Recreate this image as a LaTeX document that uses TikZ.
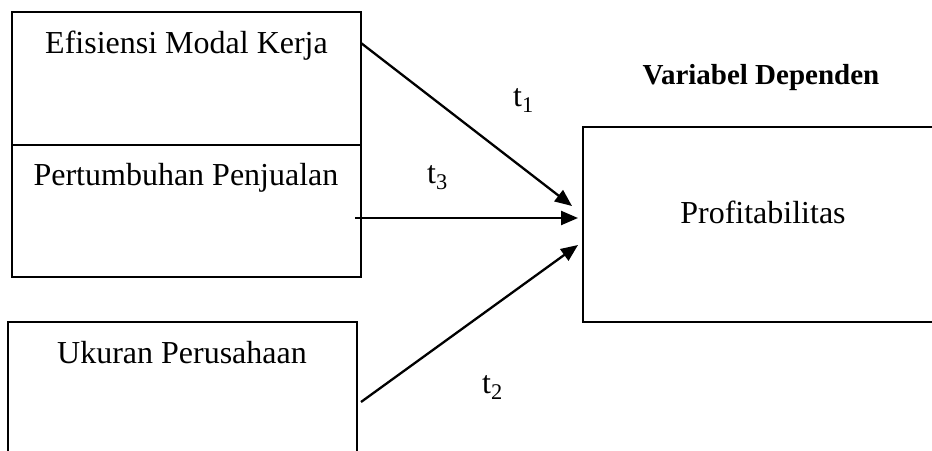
\documentclass[tikz,border=0pt]{standalone}
\usepackage{fontspec}
\setmainfont{Liberation Serif}
\usetikzlibrary{arrows.meta}
\begin{document}
\begin{tikzpicture}[x=1pt,y=-1pt,
  box/.style={draw,line width=2.3pt,inner sep=0pt},
  lbl/.style={font=\fontsize{32}{38}\selectfont,inner sep=0pt,anchor=base},
  tlbl/.style={font=\fontsize{32}{38}\selectfont,inner sep=0pt,anchor=base west},
  head/.style={font=\fontsize{29}{34}\selectfont\bfseries,inner sep=0pt,anchor=base},
  link/.style={line width=2.3pt,-{Triangle[length=17pt,width=14pt]}}]
\clip (0,0) rectangle (932,450);
% independent variable boxes
\node[box,minimum width=349pt,minimum height=133pt] (bEff) at (186.5,78.5) {};
\node[box,minimum width=349pt,minimum height=132pt] (bGrow) at (186.5,211) {};
\node[box,minimum width=349pt,minimum height=160pt] (bSize) at (182.5,402) {};
% dependent variable box (runs past the right edge)
\node[box,minimum width=362pt,minimum height=195pt] (bProf) at (764,224.5) {};
% texts
\node[lbl] (tEff) at (186.5,53) {Efisiensi Modal Kerja};
\node[lbl] (tGrow) at (186,185) {Pertumbuhan Penjualan};
\node[lbl] (tSize) at (182,363) {Ukuran Perusahaan};
\node[lbl] (tProf) at (763,223) {Profitabilitas};
\node[head] (tHead) at (761,84) {Variabel Dependen};
\node[tlbl] (t1) at (513,106) {t\textsubscript{1}};
\node[tlbl] (t3) at (427,183) {t\textsubscript{3}};
\node[tlbl] (t2) at (482,393) {t\textsubscript{2}};
% connector end points
\coordinate (s1) at (361,43);
\coordinate (s3) at (355,218);
\coordinate (s2) at (361,402);
\coordinate (e1) at (572,206);
\coordinate (e3) at (578,218);
\coordinate (e2) at (578,245);
\draw[link] (s1) -- (e1);
\draw[link] (s3) -- (e3);
\draw[link] (s2) -- (e2);
\end{tikzpicture}
\end{document}
